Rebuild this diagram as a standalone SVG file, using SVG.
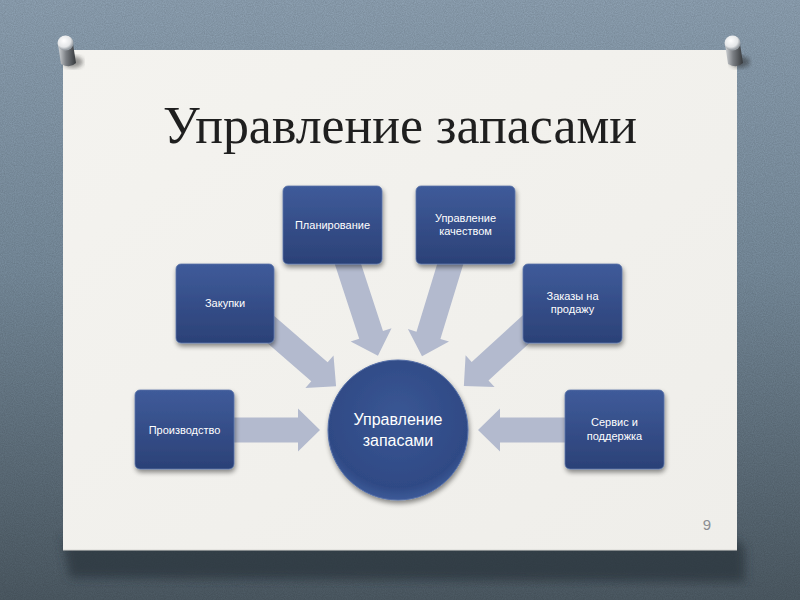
<svg xmlns="http://www.w3.org/2000/svg" width="800" height="600" viewBox="0 0 800 600">
<defs>
  <linearGradient id="bg" x1="0" y1="0" x2="0" y2="1">
    <stop offset="0" stop-color="#92a6b8"/>
    <stop offset="0.45" stop-color="#7b90a1"/>
    <stop offset="1" stop-color="#4f5d67"/>
  </linearGradient>
  <filter id="noise" x="0" y="0" width="100%" height="100%">
    <feTurbulence type="fractalNoise" baseFrequency="0.9" numOctaves="2" seed="3" result="n"/>
    <feColorMatrix in="n" type="matrix" values="0 0 0 0 0  0 0 0 0 0  0 0 0 0 0  0 0 0 0.18 0"/>
  </filter>
  <linearGradient id="paper" x1="0" y1="0" x2="1" y2="1">
    <stop offset="0" stop-color="#f4f3ef"/>
    <stop offset="1" stop-color="#efeeea"/>
  </linearGradient>
  <linearGradient id="box" x1="0" y1="0" x2="0" y2="1">
    <stop offset="0" stop-color="#3f5b9a"/>
    <stop offset="1" stop-color="#2b4177"/>
  </linearGradient>
  <radialGradient id="circ" cx="0.5" cy="0.4" r="0.6">
    <stop offset="0" stop-color="#3a5694"/>
    <stop offset="0.85" stop-color="#2f4a85"/>
    <stop offset="1" stop-color="#3d5a98"/>
  </radialGradient>
  <filter id="sh" x="-20%" y="-20%" width="140%" height="150%">
    <feGaussianBlur in="SourceAlpha" stdDeviation="2.5"/>
    <feOffset dx="1" dy="3" result="b"/>
    <feComponentTransfer><feFuncA type="linear" slope="0.45"/></feComponentTransfer>
    <feMerge><feMergeNode/><feMergeNode in="SourceGraphic"/></feMerge>
  </filter>
  <filter id="blur6"><feGaussianBlur stdDeviation="5"/></filter>
  <filter id="blur2"><feGaussianBlur stdDeviation="2"/></filter>
  <radialGradient id="cap" cx="0.4" cy="0.35" r="0.6">
    <stop offset="0" stop-color="#ffffff"/>
    <stop offset="0.7" stop-color="#e4e6e8"/>
    <stop offset="1" stop-color="#9aa0a6"/>
  </radialGradient>
  <linearGradient id="pinshaft" x1="0" y1="0" x2="1" y2="0">
    <stop offset="0" stop-color="#d4d7da"/>
    <stop offset="0.45" stop-color="#7a7e83"/>
    <stop offset="1" stop-color="#35383b"/>
  </linearGradient>
</defs>
<style>
  .arrow { fill: #b3bace; }
  .node rect { fill: url(#box); stroke: #5a73a8; stroke-width: 0.8; filter: url(#sh); }
  .lbl { font-family: "Liberation Sans", Arial, sans-serif; font-size: 11px; fill: #ffffff; text-anchor: middle; }
  .big { font-family: "Liberation Sans", Arial, sans-serif; font-size: 16px; fill: #ffffff; text-anchor: middle; }
</style>

<!-- background -->
<rect x="0" y="0" width="800" height="600" fill="url(#bg)"/>
<rect x="0" y="0" width="800" height="600" filter="url(#noise)"/>

<!-- paper shadow -->
<polygon points="60,530 70,578 745,582 745,548 737,540 63,540" fill="#2c363d" opacity="0.75" filter="url(#blur6)"/>
<!-- paper -->
<rect x="63" y="50" width="674" height="500" fill="url(#paper)"/>
<line x1="63" y1="550" x2="737" y2="550" stroke="#d9d8d4" stroke-width="1"/>

<!-- pins -->
<g id="pin-left">
  <ellipse cx="73" cy="62" rx="10" ry="6" fill="#222" opacity="0.45" filter="url(#blur2)"/>
  <path d="M58,44 L73,44 L76,63 Q70,69 61,64 Z" fill="url(#pinshaft)"/>
  <ellipse cx="65.5" cy="43" rx="8" ry="7.5" fill="url(#cap)"/>
</g>
<g id="pin-right">
  <ellipse cx="740" cy="62" rx="10" ry="6" fill="#222" opacity="0.45" filter="url(#blur2)"/>
  <path d="M725,44 L740,44 L743,63 Q737,69 728,64 Z" fill="url(#pinshaft)"/>
  <ellipse cx="732.5" cy="43" rx="8" ry="7.5" fill="url(#cap)"/>
</g>

<!-- title -->
<text x="400" y="143" font-family="'Liberation Serif', 'Times New Roman', serif" font-size="52" fill="#1f1f1f" text-anchor="middle" textLength="474" lengthAdjust="spacingAndGlyphs">Управление запасами</text>

<!-- connectors -->
<g id="connectors">
  <polygon class="arrow" transform="translate(228,430)" points="0,-12.5 70,-12.5 70,-21.5 92,0 70,21.5 70,12.5 0,12.5"/>
  <polygon class="arrow" transform="translate(572,430) rotate(180)" points="0,-12.5 72,-12.5 72,-21.5 94,0 72,21.5 72,12.5 0,12.5"/>
  <polygon class="arrow" transform="translate(345,255) rotate(71.9)" points="0,-12.5 84,-12.5 84,-21.5 106,0 84,21.5 84,12.5 0,12.5"/>
  <polygon class="arrow" transform="translate(453,255) rotate(107)" points="0,-12.5 84,-12.5 84,-21.5 106,0 84,21.5 84,12.5 0,12.5"/>
  <polygon class="arrow" transform="translate(262,322) rotate(40.9)" points="0,-12.5 76,-12.5 76,-21.5 98,0 76,21.5 76,12.5 0,12.5"/>
  <polygon class="arrow" transform="translate(534,322) rotate(137.6)" points="0,-12.5 73,-12.5 73,-21.5 95,0 73,21.5 73,12.5 0,12.5"/>
</g>

<!-- nodes -->
<g id="planirovanie" class="node">
  <rect x="283" y="186" width="99" height="78" rx="5"/>
  <text class="lbl" x="332.5" y="229">Планирование</text>
</g>
<g id="upravlenie-kachestvom" class="node">
  <rect x="416" y="186" width="99" height="78" rx="5"/>
  <text class="lbl" x="465.5" y="222">Управление</text>
  <text class="lbl" x="465.5" y="235">качеством</text>
</g>
<g id="zakupki" class="node">
  <rect x="176" y="264" width="98" height="79" rx="5"/>
  <text class="lbl" x="225" y="307">Закупки</text>
</g>
<g id="zakazy" class="node">
  <rect x="523" y="264" width="99" height="79" rx="5"/>
  <text class="lbl" x="572.5" y="300">Заказы на</text>
  <text class="lbl" x="572.5" y="313">продажу</text>
</g>
<g id="proizvodstvo" class="node">
  <rect x="135" y="390" width="99" height="79" rx="5"/>
  <text class="lbl" x="184.5" y="434">Производство</text>
</g>
<g id="servis" class="node">
  <rect x="565" y="390" width="99" height="79" rx="5"/>
  <text class="lbl" x="614.5" y="426">Сервис и</text>
  <text class="lbl" x="614.5" y="440">поддержка</text>
</g>
<g id="center" class="node">
  <circle cx="398" cy="430" r="70" fill="url(#circ)" stroke="#5670a8" stroke-width="1" filter="url(#sh)"/>
  <text class="big" x="398" y="425">Управление</text>
  <text class="big" x="398" y="446">запасами</text>
</g>

<!-- page number -->
<text x="707" y="530" font-family="'Liberation Sans', Arial, sans-serif" font-size="15" fill="#8a8d92" text-anchor="middle">9</text>
</svg>
